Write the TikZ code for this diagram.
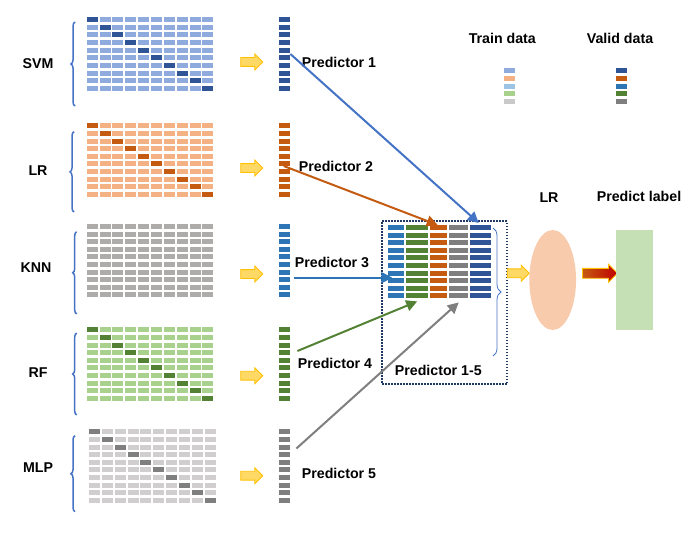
\documentclass[tikz,border=0pt]{standalone}
\usepackage{fontspec}
\setmainfont{Liberation Sans}
\usepackage{tikz}
\usetikzlibrary{shapes.geometric, shapes.arrows, arrows.meta, positioning, calc, decorations.pathreplacing}
\definecolor{svmlight}{HTML}{8FAADC}
\definecolor{svmdark}{HTML}{2F5597}
\definecolor{lrlight}{HTML}{F4B183}
\definecolor{lrdark}{HTML}{C55A11}
\definecolor{knnlight}{HTML}{AEABAB}
\definecolor{knndark}{HTML}{2E75B6}
\definecolor{rflight}{HTML}{A9D18E}
\definecolor{rfdark}{HTML}{548235}
\definecolor{mlplight}{HTML}{D0CECE}
\definecolor{mlpdark}{HTML}{7F7F7F}
\definecolor{legblue}{HTML}{9DC3E6}
\definecolor{leggrey}{HTML}{C9C9C9}
\definecolor{bracecol}{HTML}{4472C4}
\definecolor{boxnavy}{HTML}{203864}
\definecolor{ellcol}{HTML}{F8CBAD}
\definecolor{labelgreen}{HTML}{C5E0B4}
\definecolor{yellowfill}{HTML}{FFD966}
\definecolor{yellowdraw}{HTML}{FFC000}

\begin{document}
\begin{tikzpicture}[x=1pt, y=-1pt,
  lbl/.style={font=\fontsize{14.2}{17}\selectfont\bfseries, inner sep=0pt},
  yarrow/.style={single arrow, draw=yellowdraw, fill=yellowfill, line width=0.9pt, inner sep=4pt, single arrow head extend=3.5pt, minimum height=22pt},
  redarrow/.style={single arrow, draw=yellowdraw, left color=lrdark, right color=red!75!black, line width=0.9pt, inner sep=4.5pt, single arrow head extend=4pt, minimum height=35pt},
  column/.style={inner sep=0pt, minimum height=73pt, anchor=north west},
  link/.style={-{Triangle[length=11pt,width=11pt]}, line width=2pt},
  mbrace/.style={decorate, decoration={brace, amplitude=4pt}, draw=bracecol, line width=1.5pt}
]
  \useasboundingbox (0,0) rectangle (685,543);

  % base model grids and predictor columns
  \foreach \i/\top/\gx/\lt/\dg/\pc in {1/17.3/86.7/svmlight/svmdark/svmdark, 2/123.3/86.7/lrlight/lrdark/lrdark, 3/224/86.7/knnlight/knnlight/knndark, 4/327.3/86.7/rflight/rfdark/rfdark, 5/429.3/89/mlplight/mlpdark/mlpdark}{
    \foreach \r in {0,...,9}{
      \foreach \c in {0,...,9}{
        \ifnum\r=\c
          \fill[\dg] ({\gx+\c*12.85},{\top+\r*7.6}) rectangle ++(11,5);
        \else
          \fill[\lt] ({\gx+\c*12.85},{\top+\r*7.6}) rectangle ++(11,5);
        \fi
      }
      \fill[\pc] (279,{\top+\r*7.6}) rectangle ++(11,5);
    }
    \node[column, minimum width=11pt] (p\i) at (279,\top) {};
  }

  \foreach \bx/\ba/\bb in {75/106/22, 74/212/131.7, 76.7/314/231.7, 76.7/415/333, 75/511.7/435.7}
    \draw[mbrace] (\bx,\ba) -- (\bx,\bb);

  \node[lbl] (svm) at (38,64) {SVM};
  \node[lbl] (lr) at (38,171) {LR};
  \node[lbl] (knn) at (36,268) {KNN};
  \node[lbl] (rf) at (38,373) {RF};
  \node[lbl] (mlp) at (38,468) {MLP};

  \foreach \i/\ay in {1/62, 2/168, 3/274, 4/375.7, 5/475.7}
    \node[yarrow] (y\i) at (249.5,\ay) {};

  \node[lbl] (t1) at (339,62.7) {Predictor 1};
  \node[lbl] (t2) at (336,166) {Predictor 2};
  \node[lbl] (t3) at (332,262.3) {Predictor 3};
  \node[lbl] (t4) at (335,363.3) {Predictor 4};
  \node[lbl] (t5) at (339,473.3) {Predictor 5};

  % legend
  \node[lbl] (train) at (502.3,38.3) {Train data};
  \node[lbl] (valid) at (620,38.3) {Valid data};
  \foreach \k/\tc/\vc in {0/svmlight/svmdark, 1/lrlight/lrdark, 2/legblue/knndark, 3/rflight/rfdark, 4/leggrey/mlpdark}{
    \fill[\tc] (504.3,{68.3+\k*7.67}) rectangle ++(11,5);
    \fill[\vc] (616,{68.3+\k*7.67}) rectangle ++(10.7,5);
  }

  % stacked predictions
  \node[draw=boxnavy, line width=2pt, dash pattern=on 1.5pt off 1.5pt, inner sep=0pt, minimum width=124.7pt, minimum height=163.3pt, anchor=north west] (sbox) at (381,220) {};
  \foreach \i/\sx/\sw/\sc in {1/388.3/16/knndark, 2/406/22/rfdark, 3/430.3/16.4/lrdark, 4/448.7/19.6/mlpdark, 5/470/21/svmdark}{
    \foreach \r in {0,...,9}
      \fill[\sc] (\sx,{225+\r*7.6}) rectangle ++(\sw,5);
    \node[column, minimum width=\sw pt] (s\i) at (\sx,225) {};
  }
  \draw[decorate, decoration={brace, amplitude=8pt}, draw=bracecol, line width=0.8pt] (493,228) -- (493,356);
  \node[lbl] (pall) at (438.3,370) {Predictor 1-5};

  \draw[link, color=bracecol] (p1.east) -- ($(s5.north)+(-2,-2)$);
  \draw[link, color=lrdark] ($(p2.center)+(-1,6)$) -- ($(s3.north)+(-1,0)$);
  \draw[link, color=knndark] ($(p3.east)+(4,17)$) -- ($(s1.west)+(4,16)$);
  \draw[link, color=rfdark] ($(p4.east)+(7,-13)$) -- ($(s2.south)+(0,3)$);
  \draw[link, color=mlpdark] ($(p5.east)+(6,-17.5)$) -- ($(s4.south)+(0,4)$);

  % meta learner
  \node[yarrow] (ym) at (516,273.3) {};
  \node[ellipse, fill=ellcol, inner sep=0pt, minimum width=46.7pt, minimum height=100pt] (meta) at (552.7,280) {};
  \node[lbl] (lrmeta) at (549,198) {LR};
  \node[redarrow] (ra) at (597.5,273.3) {};
  \node[fill=labelgreen, inner sep=0pt, minimum width=37.3pt, minimum height=100pt] (pred) at (634.7,280) {};
  \node[lbl] (plabel) at (639,196) {Predict label};
\end{tikzpicture}
\end{document}
